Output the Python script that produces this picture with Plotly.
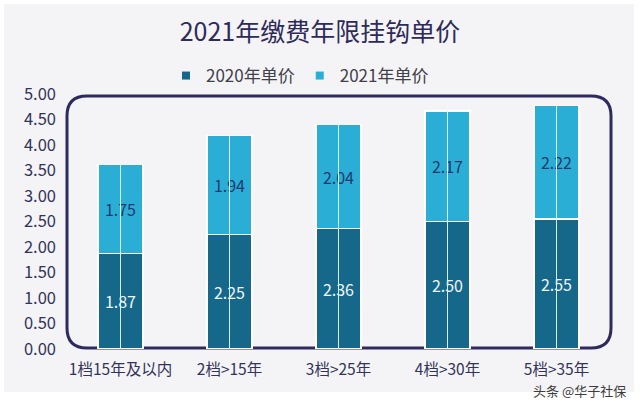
import plotly.graph_objects as go

categories = ["1档15年及以内", "2档>15年", "3档>25年", "4档>30年", "5档>35年"]
price_2020 = [1.87, 2.25, 2.36, 2.50, 2.55]
price_2021 = [1.75, 1.94, 2.04, 2.17, 2.22]
series_names = ["2020年单价", "2021年单价"]
y_ticks = [0, 0.5, 1, 1.5, 2, 2.5, 3, 3.5, 4, 4.5, 5]

W, H = 640, 407
ML, MR, MT, MB = 66, 29, 94, 58
PW, PH = W - ML - MR, H - MT - MB

def px(x):
    return (x - ML) / PW

def py(y):
    return (H - MB - y) / PH

FONT = "Noto Sans CJK SC, Noto Sans, sans-serif"
C2020 = "#16688a"
C2021 = "#2aaed6"
NAVY = "#2e2a5e"
colors = [C2020, C2021]

fig = go.Figure()
fig.add_trace(go.Bar(
    x=categories, y=price_2020, name=series_names[0], showlegend=False,
    marker=dict(color=C2020, line=dict(color="white", width=1.5)),
    texttemplate="%{y:.2f}", textposition="inside", insidetextanchor="middle",
    textfont=dict(size=16, color="#eef6fa", family=FONT),
))
fig.add_trace(go.Bar(
    x=categories, y=price_2021, name=series_names[1], showlegend=False,
    marker=dict(color=C2021, line=dict(color="white", width=1.5)),
    texttemplate="%{y:.2f}", textposition="inside", insidetextanchor="middle",
    textfont=dict(size=16, color="#203a70", family=FONT),
))
for name, col in zip(series_names, colors):
    fig.add_trace(go.Scatter(x=[None], y=[None], mode="markers", name=name,
                             marker=dict(symbol="square", size=8, color=col)))

shapes = []
shapes.append(dict(type="rect", xref="paper", yref="paper",
                   x0=px(4), x1=px(634), y0=py(392), y1=py(4),
                   fillcolor="#f4f4f6", line=dict(width=0), layer="below"))
x0, x1, yt, yb, r = 67, 611, 96, 348, 20
path = (f"M {px(x0 + r)},{py(yt)} L {px(x1 - r)},{py(yt)} "
        f"Q {px(x1)},{py(yt)} {px(x1)},{py(yt + r)} "
        f"L {px(x1)},{py(yb - r)} Q {px(x1)},{py(yb)} {px(x1 - r)},{py(yb)} "
        f"L {px(x0 + r)},{py(yb)} Q {px(x0)},{py(yb)} {px(x0)},{py(yb - r)} "
        f"L {px(x0)},{py(yt + r)} Q {px(x0)},{py(yt)} {px(x0 + r)},{py(yt)} Z")
shapes.append(dict(type="path", xref="paper", yref="paper", path=path,
                   line=dict(color=NAVY, width=3), layer="below"))
for i, c in enumerate(categories):
    shapes.append(dict(type="line", xref="x", yref="y", x0=i, x1=i,
                       y0=0, y1=price_2020[i] + price_2021[i],
                       line=dict(color="#d8eef5", width=1), layer="above"))

fig.update_layout(
    width=W, height=H,
    margin=dict(l=ML, r=MR, t=MT, b=MB),
    paper_bgcolor="white", plot_bgcolor="rgba(0,0,0,0)",
    barmode="stack", bargap=0.59,
    font=dict(family=FONT, color="#33335a"),
    title=dict(text="2021年缴费年限挂钩单价", x=0.5, xanchor="center",
               y=1 - 32 / H, yanchor="middle", yref="container",
               font=dict(size=25, color="#2e2b58", family=FONT)),
    legend=dict(orientation="h", x=px(300), xanchor="center", y=py(76), yanchor="middle",
                font=dict(size=17, color="#404048", family=FONT),
                itemwidth=30, bgcolor="rgba(0,0,0,0)", traceorder="normal"),
    shapes=shapes,
    annotations=[dict(text="头条 @华子社保", xref="paper", yref="paper",
                      x=px(628), y=py(390), xanchor="right", yanchor="middle",
                      showarrow=False, font=dict(size=13, color="#3c3c3c", family=FONT))],
    xaxis=dict(showgrid=False, zeroline=False, showline=False, ticks="",
               ticklabelstandoff=9,
               tickfont=dict(size=15.5, color="#33335a", family=FONT)),
    yaxis=dict(range=[0, 5], tickvals=y_ticks, tickformat=".2f", showgrid=False,
               zeroline=False, showline=False, ticklabelstandoff=9,
               tickfont=dict(size=16.5, color="#33335a", family=FONT)),
)

fig.write_html("out.html", config={"displayModeBar": False},
               post_script="document.body.style.margin='0px';")
